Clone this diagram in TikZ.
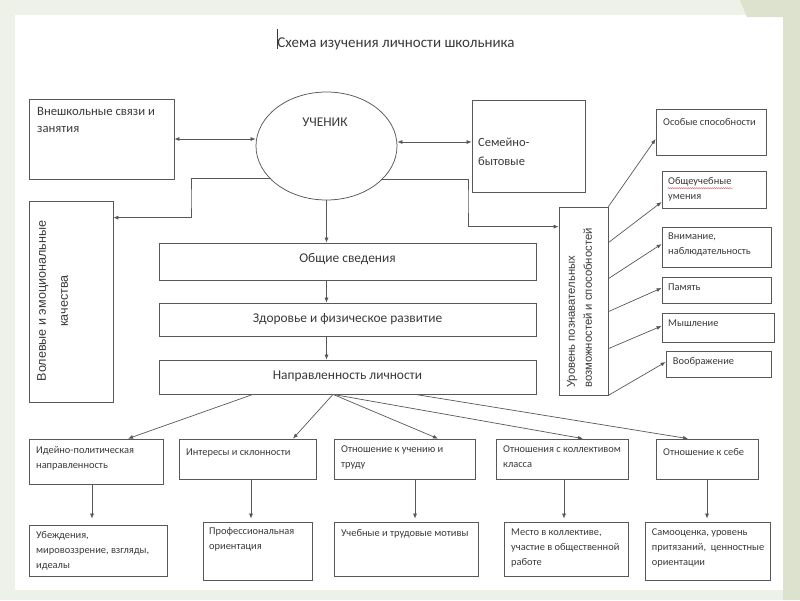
\documentclass[tikz,border=0pt]{standalone}
\usepackage{fontspec}
\setmainfont{Carlito}
\newfontfamily\arialf{Liberation Sans}
\usetikzlibrary{arrows.meta,shapes.geometric,fit,calc,decorations.pathmorphing}
\definecolor{ln}{HTML}{585858}
\definecolor{tx}{HTML}{3A3A3A}
\definecolor{bgout}{HTML}{EEF1E8}
\definecolor{bgstrip}{HTML}{DCE2CD}
\definecolor{spell}{HTML}{E06060}
\begin{document}
\begin{tikzpicture}[x=1pt,y=-1pt,
  box/.style={draw=ln, line width=0.75pt, inner sep=0pt, fit={#1}},
  txt/.style={text=tx, inner sep=0pt, align=left, anchor=north west,
    font=\fontsize{10.4}{15}\selectfont, execute at begin node={\rule{0pt}{9pt}}},
  bigtxt/.style={text=tx, inner sep=0pt, align=left, anchor=north west,
    execute at begin node={\rule{0pt}{11pt}}},
  mid/.style={text=tx, inner sep=0pt, anchor=base, font=\fontsize{13.4}{16}\selectfont},
  arr/.style={draw=ln, line width=0.7pt, -{Latex[length=5pt,width=4pt]}},
  dbl/.style={draw=ln, line width=0.7pt, {Latex[length=5pt,width=4pt]}-{Latex[length=5pt,width=4pt]}},
]
\useasboundingbox (0,0) rectangle (800,600);
% background
\fill[bgout] (0,0) rectangle (800,600);
\fill[white] (15,15) rectangle (783,590);
\fill[bgstrip] (740,0) -- (800,0) -- (800,600) -- (783,600) -- (783,17) -- (747,17) -- cycle;

% title
\draw[tx, line width=0.8pt] (277,29) -- (277,49);
\node[text=tx, anchor=base, inner sep=0pt, font=\fontsize{15}{18}\selectfont] (title) at (396,47) {Схема изучения личности школьника};

% top row
\node[box={(29,99) (174,179)}] (vnesh) {};
\node[bigtxt, font=\fontsize{12.7}{17.5}\selectfont] (vnesh-t) at (37,107) {Внешкольные связи и\\занятия};

\node[draw=ln, line width=0.75pt, ellipse, minimum width=141pt, minimum height=108pt, inner sep=0pt] (ucenik) at (326.5,146) {};
\node[mid] (ucenik-t) at (325,126.7) {УЧЕНИК};

\node[box={(472,100) (585,192)}] (semeyno) {};
\node[bigtxt, font=\fontsize{12.5}{19}\selectfont] (semeyno-t) at (478,138) {Семейно-\\бытовые};

% side boxes
\node[box={(29,201) (113,402)}] (volev) {};
\node[text=tx, inner sep=0pt, rotate=90, align=center, anchor=north,
  font=\arialf\fontsize{12.6}{22}\selectfont, execute at begin node={\rule{0pt}{10.5pt}}]
  (volev-t) at (37,301) {Волевые и эмоциональные\\качества};

\node[box={(559,207) (608,395)}] (urov) {};
\node[text=tx, inner sep=0pt, rotate=90, align=left, anchor=north west,
  font=\arialf\fontsize{11.3}{17}\selectfont, execute at begin node={\rule{0pt}{9pt}}]
  (urov-t) at (567,388) {Уровень познавательных\\возможностей и способностей};

% central column
\node[box={(159,243) (536,280)}] (obsch) {};
\node[mid] (obsch-t) at (347.5,262) {Общие сведения};
\node[box={(159,303) (536,336)}] (zdor) {};
\node[mid] (zdor-t) at (347.5,322) {Здоровье и физическое развитие};
\node[box={(159,360) (536,394)}] (napr) {};
\node[mid] (napr-t) at (347.5,379) {Направленность личности};

% right column
\node[box={(656,109) (766,155)}] (r1) {};
\node[txt] (r1-t) at (663,116) {Особые способности};
\node[box={(662,171) (766,208)}] (r2) {};
\node[txt] (r2-t) at (668,177) {Общеучебные\\умения};
\node[box={(662,227) (771,267)}] (r3) {};
\node[txt] (r3-t) at (668,232.7) {Внимание,\\наблюдательность};
\node[box={(662,277) (771,303)}] (r4) {};
\node[txt] (r4-t) at (668,281) {Память};
\node[box={(662,313) (774,342)}] (r5) {};
\node[txt] (r5-t) at (668,317.7) {Мышление};
\node[box={(666,351) (771,377)}] (r6) {};
\node[txt] (r6-t) at (672.7,355) {Воображение};

% bottom rows
\node[box={(29,439) (163,484)}] (b1) {};
\node[txt] (b1-t) at (36,446) {Идейно-политическая\\направленность};
\node[box={(179,439) (316,479)}] (b2) {};
\node[txt] (b2-t) at (186,446) {Интересы и склонности};
\node[box={(334,439) (475,479)}] (b3) {};
\node[txt] (b3-t) at (341,446) {Отношение к учению и\\труду};
\node[box={(496,439) (628,479)}] (b4) {};
\node[txt] (b4-t) at (503,446) {Отношения с коллективом\\класса};
\node[box={(656,439) (758,479)}] (b5) {};
\node[txt] (b5-t) at (663,446) {Отношение к себе};

\node[box={(29,525) (167,576)}] (c1) {};
\node[txt] (c1-t) at (36,531) {Убеждения,\\мировоззрение, взгляды,\\идеалы};
\node[box={(203,522) (312,580)}] (c2) {};
\node[txt] (c2-t) at (209,527.7) {Профессиональная\\ориентация};
\node[box={(334,522) (478,576)}] (c3) {};
\node[txt] (c3-t) at (341,527.7) {Учебные и трудовые мотивы};
\node[box={(504,522) (628,576)}] (c4) {};
\node[txt] (c4-t) at (511,528.3) {Место в коллективе,\\участие в общественной\\работе};
\node[box={(645,522) (770,580)}] (c5) {};
\node[txt] (c5-t) at (651.7,528.3) {Самооценка, уровень\\притязаний,\ \ ценностные\\ориентации};

% spell-check underline
\draw[spell, line width=0.45pt, decorate, decoration={snake, amplitude=0.55pt, segment length=2.2pt}]
  ([xshift=6pt,yshift=-17.5pt]r2.north west) -- ++(65,0);

% connectors
\draw[dbl] (vnesh.east) -- (vnesh.east -| ucenik.west);
\draw[dbl] ([yshift=4pt]ucenik.east) -- ([yshift=4pt]ucenik.east -| semeyno.west);
\draw[arr] (ucenik.south) -- (ucenik.south |- obsch.north);
\draw[arr] (obsch.south -| ucenik.south) -- (zdor.north -| ucenik.south);
\draw[arr] (zdor.south -| ucenik.south) -- (napr.north -| ucenik.south);

\coordinate (bendL) at (191,200);
\draw[arr] (ucenik.210.6) -| (bendL) |- ([yshift=-17pt]volev.north east);
\coordinate (bendR) at (468,200);
\draw[arr] (ucenik.329.4) -| (bendR) |- ([yshift=-20pt]urov.north west);

\draw[arr] (urov.north east) -- ([yshift=-7pt]r1.west);
\draw[arr] ([yshift=-36pt]urov.north east) -- ([yshift=-12.5pt]r2.west);
\draw[arr] ([yshift=-72pt]urov.north east) -- ([yshift=3pt]r3.west);
\draw[arr] ([yshift=-105pt]urov.north east) -- ([yshift=2pt]r4.west);
\draw[arr] ([yshift=-142pt]urov.north east) -- ([yshift=1.5pt]r5.west);
\draw[arr] (urov.south east) -- ([yshift=2pt]r6.west);

\draw[arr] ([xshift=-94.5pt]napr.south) -- ([xshift=32pt]b1.north);
\draw[arr] ([xshift=-14.5pt]napr.south) -- ([xshift=45.5pt]b2.north);
\draw[arr] ([xshift=-14.5pt]napr.south) -- ([xshift=33.5pt]b3.north);
\draw[arr] ([xshift=-14.5pt]napr.south) -- ([xshift=21pt]b4.north);
\draw[arr] ([xshift=67.5pt]napr.south) -- ([xshift=-19pt]b5.north);

\coordinate (v1) at ([xshift=-4pt]b1.south);
\draw[arr, shorten >=6pt] (v1) -- (v1 |- c1.north);
\coordinate (v2) at ([xshift=3.5pt]b2.south);
\draw[arr, shorten >=3pt] (v2) -- (v2 |- c2.north);
\coordinate (v3) at ([xshift=10.5pt]b3.south);
\draw[arr, shorten >=3pt] (v3) -- (v3 |- c3.north);
\coordinate (v4) at ([xshift=2pt]b4.south);
\draw[arr, shorten >=3pt] (v4) -- (v4 |- c4.north);
\coordinate (v5) at (b5.south);
\draw[arr, shorten >=3pt] (v5) -- (v5 |- c5.north);
\end{tikzpicture}
\end{document}
